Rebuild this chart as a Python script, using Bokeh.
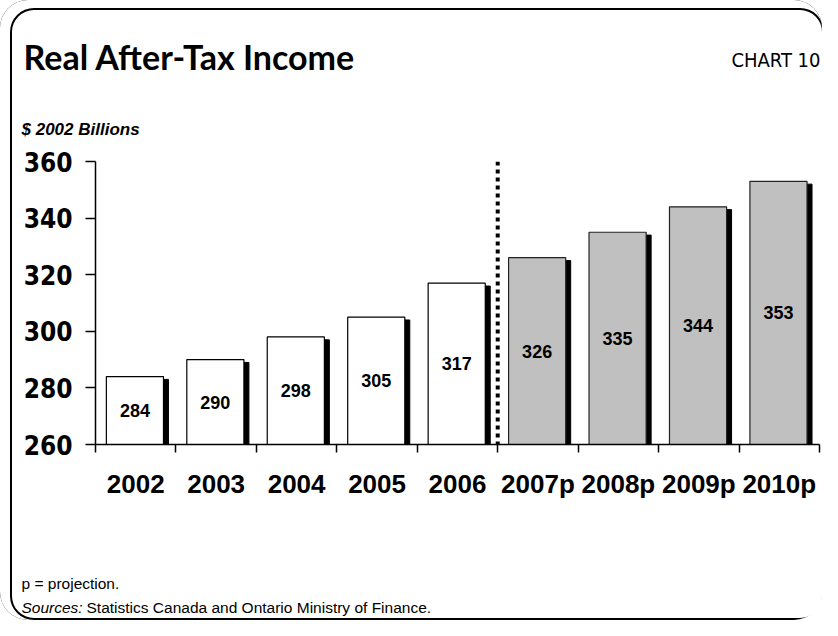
from bokeh.plotting import figure
from bokeh.layouts import column
from bokeh.models import Range1d, FixedTicker, Span, ColumnDataSource
from bokeh.core.properties import value
from bokeh.embed import file_html
from bokeh.resources import INLINE

# ---- data ----
years = ["2002", "2003", "2004", "2005", "2006", "2007p", "2008p", "2009p", "2010p"]
income = [284, 290, 298, 305, 317, 326, 335, 344, 353]
n_actual = 5  # 2002-2006 actual, rest projections
y_ticks = [260, 280, 300, 320, 340, 360]
Y_MIN, Y_MAX = 260, 360

title_text = "Real After-Tax Income"
chart_no = "CHART 10"
unit_text = "$ 2002 Billions"
note_text = "p = projection."
src_head = "Sources:"
src_text = "Statistics Canada and Ontario Ministry of Finance."

COND = "DejaVu Sans Condensed"
ARIAL = "Liberation Sans"
TITLE_FONT = "Lato"

W = 822
TOP_H, MAIN_H, BOT_H = 140, 380, 100


def no_align(f):
    try:
        f.frame_align = False
    except Exception:
        pass


def blank(h):
    f = figure(width=W, height=h, output_backend="svg", toolbar_location=None,
               x_range=Range1d(0, W), y_range=Range1d(h, 0),
               x_axis_type=None, y_axis_type=None,
               min_border=0, min_border_left=0, min_border_right=0,
               min_border_top=0, min_border_bottom=0)
    f.border_fill_color = None
    f.background_fill_color = None
    f.outline_line_color = None
    f.xgrid.visible = False
    f.ygrid.visible = False
    no_align(f)
    return f


def txt(f, x, y, s, font, size, style="normal", align="left"):
    f.text(x=[x], y=[y], text=[s], text_font=value(font), text_font_size=size,
           text_font_style=style, text_align=align, text_baseline="alphabetic",
           text_color="black")


# ---- header ----
top = blank(TOP_H)
txt(top, 23, 56, title_text, TITLE_FONT, "34px", "bold")
txt(top, 820, 59, chart_no, COND, "20px", "normal", "right")
txt(top, 21, 129, unit_text, ARIAL, "17px", "bold italic")

# ---- main chart ----
centers = [i + 0.5 for i in range(len(years))]
bar_x = [c - 0.01 for c in centers]
shadow_x = [c + 0.052 for c in centers]
fills = ["white"] * n_actual + ["#C0C0C0"] * (len(years) - n_actual)
edges = ["black"] * n_actual + ["#222222"] * (len(years) - n_actual)
label_y = [(v + Y_MIN) / 2 for v in income]

src = ColumnDataSource(dict(x=bar_x, sx=shadow_x, top=income,
                            stop=[v - 1.0 for v in income],
                            fill=fills, edge=edges, ly=label_y,
                            txt=[str(v) for v in income]))

p = figure(width=W, height=MAIN_H, output_backend="svg", toolbar_location=None,
           x_range=Range1d(0, len(years)), y_range=Range1d(Y_MIN, Y_MAX),
           min_border_left=95, min_border_right=3, min_border_top=21,
           min_border_bottom=76)
p.border_fill_color = None
p.background_fill_color = None
p.outline_line_color = None
p.xgrid.visible = False
p.ygrid.visible = False
no_align(p)

p.vbar(x="sx", top="stop", bottom=Y_MIN, width=0.71, source=src,
       fill_color="black", line_color="black")
p.vbar(x="x", top="top", bottom=Y_MIN, width=0.71, source=src,
       fill_color="fill", line_color="edge", line_width=1.2)
p.text(x="x", y="ly", text="txt", source=src, text_align="center",
       text_baseline="middle", text_font=value(ARIAL), text_font_style="bold",
       text_font_size="18px", text_color="black")

p.add_layout(Span(location=n_actual, dimension="height", line_color="black",
                  line_width=4, line_dash="4 4"))

xa = p.xaxis[0]
xa.ticker = FixedTicker(ticks=centers, minor_ticks=list(range(len(years) + 1)))
xa.major_label_overrides = {c: y for c, y in zip(centers, years)}
xa.major_tick_out = 0
xa.major_tick_in = 0
xa.minor_tick_out = 8
xa.minor_tick_in = 0
xa.minor_tick_line_color = "black"
xa.minor_tick_line_width = 1.5
xa.axis_line_color = "black"
xa.axis_line_width = 1.5
xa.major_label_standoff = 16
xa.major_label_text_font = ARIAL
xa.major_label_text_font_style = "bold"
xa.major_label_text_font_size = "26px"
xa.major_label_text_color = "black"

ya = p.yaxis[0]
ya.ticker = FixedTicker(ticks=y_ticks)
ya.major_tick_out = 10
ya.major_tick_in = 0
ya.major_tick_line_color = "black"
ya.major_tick_line_width = 1.5
ya.axis_line_color = "black"
ya.axis_line_width = 1.5
ya.major_label_standoff = 13
ya.major_label_text_font = COND
ya.major_label_text_font_style = "bold"
ya.major_label_text_font_size = "26px"
ya.major_label_text_color = "black"

# ---- footer ----
bot = blank(BOT_H)
txt(bot, 21, 63, note_text, ARIAL, "15.5px")
txt(bot, 21, 87, src_head, ARIAL, "15.5px", "italic")
txt(bot, 86, 87, src_text, ARIAL, "15.5px")

layout = column(top, p, bot, spacing=0)
layout.styles = {
    "border-radius": "28px",
    "box-shadow": "inset 6px 4px 0 4px white, inset 6px 4px 0 6px black",
}

open("out.html", "w").write(file_html(layout, INLINE))
